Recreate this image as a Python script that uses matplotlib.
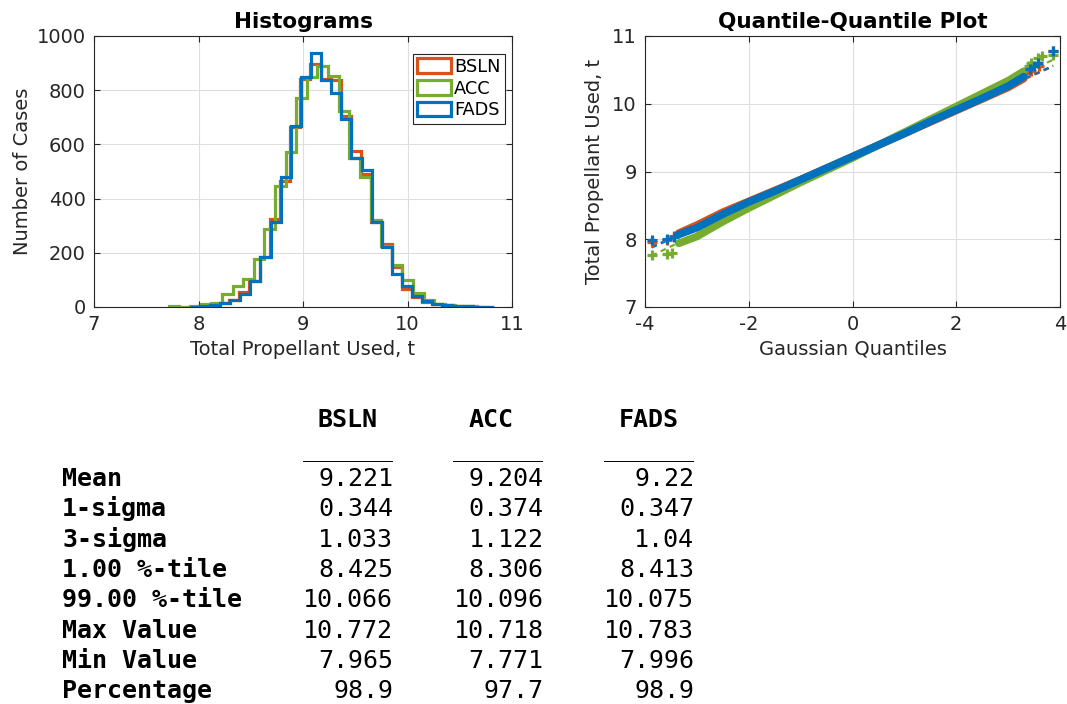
import numpy as np
import matplotlib
matplotlib.use('Agg')
import matplotlib.pyplot as plt

plt.rcParams['axes.unicode_minus'] = False

# series names / colours (matlab default order)
names = ['BSLN', 'ACC', 'FADS']
colors = ['#D95319', '#77AC30', '#0072BD']

# histogram bins: first edge, last edge, 30 bins each
bin_lo = [7.902, 7.716, 7.916]
bin_hi = [10.824, 10.764, 10.817]
counts_bsln = [1, 3, 6, 16, 26, 55, 96, 185, 325, 464, 665, 843, 896, 843, 838,
               705, 575, 491, 312, 234, 146, 66, 38, 18, 11, 6, 3, 2, 1, 1]
counts_acc = [2, 1, 4, 10, 16, 47, 78, 105, 177, 288, 448, 572, 773, 849, 889,
              852, 723, 551, 479, 322, 226, 156, 99, 51, 25, 12, 8, 4, 2, 1]
counts_fads = [1, 3, 7, 16, 26, 49, 96, 183, 312, 479, 667, 849, 936, 837, 791,
               695, 551, 506, 312, 220, 121, 76, 41, 21, 11, 6, 3, 2, 1, 1]

# qq plot, dense part of each curve (gaussian quantile, value)
band_x = [-3.35, -3.0, -2.5, -2.0, -1.5, -1.0, -0.5, 0.0, 0.5, 1.0, 1.5, 2.0, 2.5, 3.0, 3.3]
band_bsln = [8.09, 8.21, 8.40, 8.56, 8.72, 8.88, 9.05, 9.22, 9.39, 9.56, 9.73, 9.90, 10.07, 10.24, 10.37]
band_acc = [7.94, 8.04, 8.26, 8.46, 8.65, 8.84, 9.02, 9.20, 9.39, 9.58, 9.77, 9.96, 10.15, 10.34, 10.48]
band_fads = [8.07, 8.17, 8.37, 8.55, 8.71, 8.88, 9.05, 9.22, 9.39, 9.56, 9.74, 9.91, 10.08, 10.26, 10.40]

# qq plot, separate points in the tails
tail_x_bsln = [-3.87, -3.58, -3.45, 3.35, 3.45, 3.6, 3.87]
tail_y_bsln = [7.965, 7.99, 8.05, 10.45, 10.49, 10.55, 10.772]
tail_x_acc = [-3.87, -3.58, -3.48, 3.4, 3.45, 3.58, 3.65, 3.87]
tail_y_acc = [7.771, 7.78, 7.80, 10.55, 10.60, 10.68, 10.71, 10.718]
tail_x_fads = [-3.87, -3.58, -3.45, 3.42, 3.5, 3.58, 3.87]
tail_y_fads = [7.996, 8.01, 8.04, 10.52, 10.55, 10.60, 10.783]

# statistics table
row_labels = ['Mean', '1-sigma', '3-sigma', '1.00 %-tile', '99.00 %-tile',
              'Max Value', 'Min Value', 'Percentage']
stats_bsln = [9.221, 0.344, 1.033, 8.425, 10.066, 10.772, 7.965, 98.9]
stats_acc = [9.204, 0.374, 1.122, 8.306, 10.096, 10.718, 7.771, 97.7]
stats_fads = [9.22, 0.347, 1.04, 8.413, 10.075, 10.783, 7.996, 98.9]

W, H = 1067, 704
dark = '#262626'
fig = plt.figure(figsize=(W / 100, H / 100), dpi=100)


def style(ax):
    ax.grid(True, color='#dedede', lw=0.8)
    ax.set_axisbelow(True)
    ax.tick_params(direction='in', top=True, right=True, length=4, width=0.8,
                   colors=dark, labelsize=14, pad=6)
    for s in ax.spines.values():
        s.set_color(dark)
        s.set_linewidth(0.8)


# histograms
ax1 = fig.add_axes([94 / W, 1 - 307 / H, 418 / W, 271 / H])
all_counts = [counts_bsln, counts_acc, counts_fads]
for i in range(3):
    edges = np.linspace(bin_lo[i], bin_hi[i], len(all_counts[i]) + 1)
    mids = (edges[:-1] + edges[1:]) / 2
    ax1.hist(mids, bins=edges, weights=all_counts[i], histtype='step',
             lw=2.3, color=colors[i], label=names[i])
ax1.set_xlim(7, 11)
ax1.set_ylim(0, 1000)
ax1.set_xticks([7, 8, 9, 10, 11])
ax1.set_yticks(range(0, 1001, 200))
style(ax1)
ax1.set_title('Histograms', fontsize=15.5, fontweight='bold', pad=6)
ax1.set_xlabel('Total Propellant Used, t', fontsize=14, color=dark, labelpad=4)
ax1.set_ylabel('Number of Cases', fontsize=14, color=dark, labelpad=3)
leg = ax1.legend(loc='upper right', fontsize=12.8, fancybox=False, framealpha=1,
                 edgecolor=dark, handlelength=1.9, handleheight=0.9,
                 handletextpad=0.15, labelspacing=0.2, borderpad=0.25,
                 borderaxespad=0.3, bbox_to_anchor=(0.995, 0.955))
leg.get_frame().set_linewidth(0.8)

# quantile-quantile plot
ax2 = fig.add_axes([645 / W, 1 - 307 / H, 415 / W, 271 / H])
bands = [band_bsln, band_acc, band_fads]
tails_x = [tail_x_bsln, tail_x_acc, tail_x_fads]
tails_y = [tail_y_bsln, tail_y_acc, tail_y_fads]
means = [stats_bsln[0], stats_acc[0], stats_fads[0]]
sigmas = [stats_bsln[1], stats_acc[1], stats_fads[1]]
xr = np.array([-3.87, 3.87])
for i in range(3):
    ax2.plot(xr, means[i] + sigmas[i] * xr, ls=(0, (2.5, 2)), lw=1.6,
             color=colors[i], zorder=1.5)
for i in range(3):
    ax2.plot(band_x, bands[i], '-', lw=5.5, color=colors[i],
             solid_capstyle='round', zorder=2 + i)
    ax2.plot(tails_x[i], tails_y[i], '+', ms=7, mew=2.3, color=colors[i],
             zorder=2 + i)
ax2.set_xlim(-4, 4)
ax2.set_ylim(7, 11)
ax2.set_xticks([-4, -2, 0, 2, 4])
ax2.set_yticks([7, 8, 9, 10, 11])
style(ax2)
ax2.set_title('Quantile-Quantile Plot', fontsize=15.5, fontweight='bold', pad=6)
ax2.set_xlabel('Gaussian Quantiles', fontsize=14, color=dark, labelpad=4)
ax2.set_ylabel('Total Propellant Used, t', fontsize=14, color=dark, labelpad=6)

# statistics table (monospace text)
mono = 'DejaVu Sans Mono'
fs = 18
cw = fs * 100 / 72 * 0.602  # character width in pixels
x0 = 62


def tx(px):
    return px / W


def ty(px):
    return 1 - px / H


col_start = [16, 26, 36]
for j in range(3):
    fig.text(tx(x0 + (col_start[j] + 1) * cw), ty(427), names[j],
             family=mono, fontsize=fs, fontweight='bold', va='baseline', ha='left')
    fig.text(tx(x0 + col_start[j] * cw), ty(456), '______',
             family=mono, fontsize=fs, va='baseline', ha='left')
for i, lab in enumerate(row_labels):
    yb = ty(486 + 30.3 * i)
    fig.text(tx(x0), yb, lab, family=mono, fontsize=fs, fontweight='bold',
             va='baseline', ha='left')
    for j, v in enumerate((stats_bsln[i], stats_acc[i], stats_fads[i])):
        fig.text(tx(x0 + (col_start[j] + 6) * cw), yb, str(v), family=mono,
                 fontsize=fs, va='baseline', ha='right')

fig.savefig('out.png', dpi=100)
